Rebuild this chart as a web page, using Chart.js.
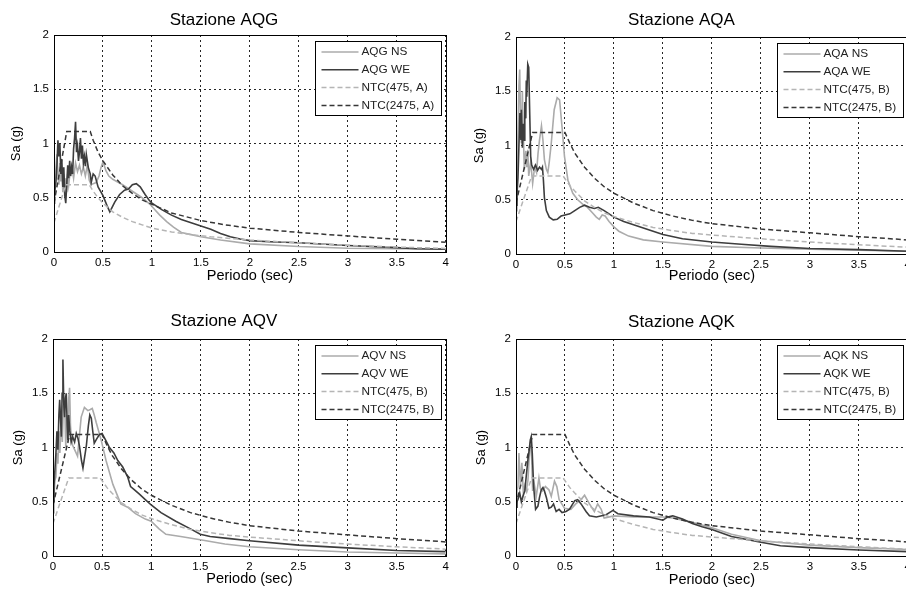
<!DOCTYPE html>
<html>
<head>
<meta charset="utf-8">
<script src="https://cdn.jsdelivr.net/npm/chart.js@4.4.1/dist/chart.umd.min.js"></script>
<style>
  html, body { margin: 0; padding: 0; background: #fff; overflow: hidden; width: 906px; height: 594px; }
  canvas { position: absolute; }
</style>
</head>
<body>
<canvas id="c1" width="453" height="297" style="left:0;top:0"></canvas>
<canvas id="c2" width="462" height="297" style="left:453px;top:0"></canvas>
<canvas id="c3" width="453" height="297" style="left:0;top:297px"></canvas>
<canvas id="c4" width="462" height="297" style="left:453px;top:297px"></canvas>
<script>
// axis ticks
var xTicks = [0, 0.5, 1, 1.5, 2, 2.5, 3, 3.5, 4];
var xTickLabels = ['0', '0.5', '1', '1.5', '2', '2.5', '3', '3.5', '4'];
var yTicks = [0, 0.5, 1, 1.5, 2];
var yTickLabels = ['0', '0.5', '1', '1.5', '2'];

// [period (s), Sa (g)] pairs
var aqgNs = [[0,0.45],[0.01,0.6],[0.02,0.78],[0.03,0.9],[0.04,0.7],[0.05,0.62],[0.06,0.82],[0.07,0.65],[0.08,0.78],[0.09,0.55],[0.1,0.72],[0.11,0.6],[0.12,0.68],[0.13,0.55],[0.14,0.72],[0.15,0.62],[0.16,0.7],[0.18,0.8],[0.2,0.68],[0.22,0.82],[0.24,0.74],[0.26,0.8],[0.28,0.72],[0.3,0.78],[0.32,0.7],[0.34,0.8],[0.36,0.66],[0.38,0.62],[0.4,0.63],[0.43,0.64],[0.46,0.7],[0.48,0.78],[0.5,0.83],[0.53,0.75],[0.56,0.7],[0.6,0.67],[0.7,0.62],[0.8,0.56],[0.9,0.5],[0.98,0.44],[1.03,0.39],[1.08,0.34],[1.15,0.28],[1.22,0.23],[1.3,0.18],[1.4,0.16],[1.5,0.14],[1.7,0.11],[2.0,0.075],[2.5,0.05],[3.0,0.035],[3.5,0.03],[4.0,0.03]];
var aqgWe = [[0,0.5],[0.02,0.65],[0.03,0.8],[0.04,1.03],[0.05,0.88],[0.06,1.0],[0.07,0.72],[0.08,0.85],[0.09,0.6],[0.1,0.78],[0.11,0.52],[0.12,0.45],[0.13,0.62],[0.14,0.8],[0.15,0.68],[0.16,0.84],[0.17,0.7],[0.18,0.78],[0.19,0.72],[0.2,0.95],[0.21,1.05],[0.22,1.2],[0.23,0.92],[0.24,0.98],[0.25,0.84],[0.26,0.92],[0.27,1.05],[0.28,0.86],[0.29,0.98],[0.3,0.82],[0.31,0.88],[0.32,0.79],[0.33,0.9],[0.35,0.78],[0.37,0.72],[0.38,0.64],[0.4,0.72],[0.42,0.7],[0.45,0.6],[0.5,0.52],[0.54,0.43],[0.57,0.37],[0.62,0.46],[0.67,0.53],[0.72,0.57],[0.76,0.58],[0.8,0.62],[0.84,0.63],[0.88,0.6],[0.93,0.53],[0.97,0.48],[1.0,0.45],[1.1,0.39],[1.2,0.34],[1.3,0.3],[1.4,0.27],[1.5,0.24],[1.6,0.21],[1.7,0.17],[1.8,0.14],[1.9,0.12],[2.0,0.105],[2.2,0.095],[2.5,0.085],[3.0,0.06],[3.5,0.04],[3.7,0.03],[4.0,0.025]];
var ntc475A = [[0,0.27],[0.12,0.62],[0.36,0.62],[0.4,0.56],[0.45,0.5],[0.5,0.45],[0.6,0.37],[0.7,0.32],[0.8,0.28],[0.9,0.25],[1.0,0.22],[1.2,0.185],[1.4,0.16],[1.6,0.14],[1.8,0.125],[2.0,0.11],[2.2,0.1],[2.5,0.085],[3.0,0.062],[3.5,0.045],[4.0,0.033]];
var ntc2475A = [[0,0.45],[0.13,1.11],[0.37,1.11],[0.4,1.03],[0.45,0.92],[0.5,0.84],[0.6,0.71],[0.7,0.61],[0.8,0.54],[0.9,0.48],[1.0,0.44],[1.2,0.36],[1.5,0.29],[1.75,0.25],[2.0,0.22],[2.5,0.18],[3.0,0.148],[3.5,0.118],[4.0,0.09]];

var aqaNs = [[0,0.4],[0.01,0.6],[0.02,1.1],[0.03,1.55],[0.038,1.7],[0.045,1.3],[0.055,1.02],[0.065,1.5],[0.075,1.1],[0.085,0.78],[0.1,0.95],[0.11,0.8],[0.12,0.96],[0.13,0.72],[0.15,0.85],[0.17,0.65],[0.19,0.8],[0.21,0.75],[0.225,0.93],[0.24,1.05],[0.26,1.18],[0.275,1.05],[0.29,0.87],[0.31,0.78],[0.325,0.75],[0.34,0.85],[0.36,1.02],[0.39,1.33],[0.42,1.44],[0.445,1.42],[0.47,1.17],[0.495,0.9],[0.53,0.68],[0.58,0.56],[0.63,0.5],[0.68,0.46],[0.73,0.43],[0.78,0.38],[0.82,0.34],[0.85,0.32],[0.88,0.36],[0.91,0.35],[0.95,0.3],[1.0,0.25],[1.05,0.21],[1.15,0.165],[1.3,0.13],[1.5,0.11],[2.0,0.07],[2.5,0.055],[3.0,0.045],[3.5,0.035],[4.0,0.025]];
var aqaWe = [[0,0.45],[0.01,0.55],[0.02,0.7],[0.03,1.0],[0.04,1.3],[0.05,1.05],[0.055,1.33],[0.065,0.98],[0.075,1.2],[0.085,1.05],[0.09,1.4],[0.1,1.25],[0.105,1.6],[0.11,1.45],[0.12,1.75],[0.13,1.72],[0.14,1.3],[0.15,0.9],[0.16,0.82],[0.18,0.78],[0.2,0.82],[0.22,0.77],[0.24,0.8],[0.26,0.78],[0.27,0.8],[0.28,0.68],[0.29,0.52],[0.31,0.4],[0.34,0.34],[0.38,0.315],[0.42,0.32],[0.46,0.35],[0.5,0.36],[0.55,0.37],[0.6,0.4],[0.65,0.43],[0.7,0.45],[0.75,0.43],[0.8,0.42],[0.84,0.43],[0.9,0.4],[0.95,0.37],[1.0,0.34],[1.1,0.3],[1.2,0.27],[1.3,0.24],[1.4,0.21],[1.5,0.18],[1.7,0.14],[2.0,0.11],[2.3,0.09],[2.6,0.07],[3.0,0.05],[3.5,0.04],[4.0,0.025]];
var ntc475B = [[0,0.3],[0.16,0.72],[0.48,0.72],[0.55,0.63],[0.6,0.58],[0.7,0.49],[0.8,0.43],[0.9,0.38],[1.0,0.345],[1.2,0.29],[1.4,0.245],[1.6,0.215],[1.8,0.19],[2.0,0.175],[2.5,0.14],[3.0,0.11],[3.5,0.085],[4.0,0.063]];
var ntc2475B = [[0,0.47],[0.17,1.12],[0.5,1.12],[0.55,1.02],[0.6,0.93],[0.7,0.8],[0.8,0.7],[0.9,0.62],[1.0,0.56],[1.2,0.47],[1.4,0.4],[1.6,0.35],[1.8,0.31],[2.0,0.28],[2.5,0.23],[3.0,0.195],[3.5,0.16],[4.0,0.13]];

var aqvNs = [[0,0.4],[0.01,0.55],[0.02,0.7],[0.03,0.73],[0.04,0.95],[0.05,0.85],[0.06,1.15],[0.07,0.95],[0.085,1.28],[0.095,1.05],[0.105,1.38],[0.118,1.44],[0.13,1.0],[0.14,1.3],[0.152,1.04],[0.16,1.45],[0.169,1.55],[0.178,1.2],[0.186,1.1],[0.2,1.02],[0.22,0.98],[0.25,0.92],[0.27,1.12],[0.287,1.28],[0.32,1.37],[0.355,1.34],[0.38,1.35],[0.4,1.36],[0.42,1.3],[0.44,1.23],[0.49,1.07],[0.54,0.88],[0.61,0.66],[0.69,0.48],[0.76,0.45],[0.84,0.39],[0.94,0.34],[1.0,0.32],[1.08,0.25],[1.15,0.2],[1.3,0.18],[1.5,0.15],[1.75,0.11],[2.0,0.085],[2.5,0.058],[3.0,0.037],[3.5,0.028],[4.0,0.02]];
var aqvWe = [[0,0.5],[0.01,0.65],[0.02,0.8],[0.03,0.95],[0.04,1.15],[0.05,0.98],[0.06,1.3],[0.068,1.44],[0.085,1.1],[0.093,1.5],[0.101,1.81],[0.11,1.4],[0.118,1.28],[0.127,1.45],[0.135,1.5],[0.145,1.2],[0.152,1.07],[0.16,1.3],[0.17,1.16],[0.185,1.05],[0.2,1.1],[0.22,1.05],[0.237,1.13],[0.255,1.08],[0.27,1.01],[0.29,0.88],[0.305,0.81],[0.32,0.9],[0.34,1.02],[0.36,1.2],[0.375,1.3],[0.39,1.27],[0.405,1.15],[0.42,1.04],[0.445,1.08],[0.473,1.12],[0.5,1.13],[0.54,1.06],[0.575,1.0],[0.62,0.95],[0.66,0.88],[0.71,0.82],[0.76,0.73],[0.79,0.64],[0.83,0.61],[0.88,0.57],[0.94,0.52],[1.0,0.47],[1.1,0.4],[1.25,0.32],[1.4,0.25],[1.5,0.2],[1.6,0.18],[1.8,0.16],[2.0,0.14],[2.5,0.1],[3.0,0.075],[3.5,0.05],[4.0,0.04]];

var aqkNs = [[0,0.45],[0.01,0.6],[0.02,0.64],[0.03,0.95],[0.045,0.64],[0.06,0.86],[0.075,0.58],[0.09,0.65],[0.105,0.6],[0.122,0.7],[0.139,0.98],[0.15,1.05],[0.16,0.9],[0.17,0.6],[0.18,0.7],[0.207,0.55],[0.234,0.72],[0.25,0.62],[0.268,0.6],[0.3,0.64],[0.336,0.61],[0.36,0.55],[0.393,0.69],[0.417,0.64],[0.44,0.52],[0.495,0.44],[0.56,0.43],[0.61,0.48],[0.664,0.52],[0.7,0.56],[0.75,0.48],[0.8,0.41],[0.834,0.48],[0.87,0.43],[0.9,0.35],[1.0,0.37],[1.2,0.36],[1.4,0.36],[1.5,0.36],[1.6,0.35],[1.8,0.31],[2.0,0.26],[2.2,0.2],[2.5,0.14],[3.0,0.1],[3.5,0.077],[4.0,0.06]];
var aqkWe = [[0,0.45],[0.01,0.5],[0.02,0.52],[0.038,0.58],[0.055,0.5],[0.071,0.55],[0.09,0.6],[0.105,0.74],[0.122,0.89],[0.135,0.98],[0.146,1.07],[0.156,1.1],[0.166,0.95],[0.18,0.64],[0.2,0.43],[0.224,0.46],[0.24,0.54],[0.258,0.61],[0.275,0.63],[0.29,0.6],[0.31,0.54],[0.336,0.44],[0.36,0.45],[0.383,0.48],[0.41,0.41],[0.44,0.43],[0.47,0.4],[0.51,0.41],[0.545,0.43],[0.6,0.51],[0.63,0.52],[0.664,0.48],[0.715,0.41],[0.75,0.37],[0.82,0.36],[0.92,0.38],[0.99,0.42],[1.04,0.39],[1.2,0.37],[1.36,0.36],[1.5,0.33],[1.55,0.36],[1.6,0.37],[1.7,0.34],[1.8,0.3],[1.9,0.27],[2.0,0.245],[2.2,0.18],[2.5,0.126],[2.7,0.095],[3.0,0.077],[3.5,0.055],[4.0,0.04]];

Chart.defaults.font.family = '"Liberation Sans", Arial, sans-serif';
Chart.defaults.color = '#000';

// matlab-like axes box plus the legend in the top right corner
var boxLegend = {
    id: 'boxLegend',
    afterDatasetsDraw: function(chart) {
        var ctx = chart.ctx;
        var a = chart.chartArea;
        ctx.save();
        ctx.strokeStyle = '#000';
        ctx.lineWidth = 1;
        ctx.strokeRect(Math.round(a.left) + 0.5, Math.round(a.top) + 0.5,
            Math.round(a.right - a.left), Math.round(a.bottom - a.top));

        var w = 126, h = 74;
        var x0 = Math.round(a.right - 5 - w) + 0.5;
        var y0 = Math.round(a.top + 6) + 0.5;
        ctx.fillStyle = '#fff';
        ctx.fillRect(x0, y0, w, h);
        ctx.strokeRect(x0, y0, w, h);
        ctx.font = '11.8px "Liberation Sans", Arial, sans-serif';
        ctx.textBaseline = 'middle';
        chart.data.datasets.forEach(function(ds, i) {
            var y = y0 + 10.5 + i * 17.8;
            ctx.strokeStyle = ds.borderColor;
            ctx.lineWidth = ds.borderWidth;
            ctx.setLineDash(ds.borderDash || []);
            ctx.beginPath();
            ctx.moveTo(x0 + 6, y);
            ctx.lineTo(x0 + 43, y);
            ctx.stroke();
            ctx.setLineDash([]);
            ctx.fillStyle = '#222';
            ctx.fillText(ds.label, x0 + 46, y);
        });
        ctx.restore();
    }
};

function toXY(arr) {
    return arr.map(function(p) { return { x: p[0], y: p[1] }; });
}

function makeChart(p) {
    var ctx = document.getElementById(p.id).getContext('2d');
    return new Chart(ctx, {
        type: 'line',
        data: {
            datasets: [
                { label: p.name + ' NS', data: toXY(p.ns), borderColor: '#ababab', borderWidth: 1.6, order: 4 },
                { label: p.name + ' WE', data: toXY(p.we), borderColor: '#3d3d3d', borderWidth: 1.6, order: 3 },
                { label: 'NTC(475, ' + p.soil + ')', data: toXY(p.n475), borderColor: '#b5b5b5', borderWidth: 1.5, borderDash: [5, 3], order: 2 },
                { label: 'NTC(2475, ' + p.soil + ')', data: toXY(p.n2475), borderColor: '#363636', borderWidth: 1.5, borderDash: [5, 3], order: 1 }
            ]
        },
        options: {
            responsive: false,
            animation: false,
            layout: { padding: { left: 0, right: p.right, top: 0, bottom: 0 } },
            elements: {
                point: { radius: 0 },
                line: { tension: 0, fill: false }
            },
            plugins: {
                legend: { display: false },
                tooltip: { enabled: false },
                title: {
                    display: true,
                    text: 'Stazione ' + p.name,
                    font: { size: 17, weight: 'normal' },
                    color: '#000',
                    padding: p.titlePad
                }
            },
            scales: {
                x: {
                    type: 'linear',
                    min: 0,
                    max: 4,
                    afterBuildTicks: function(s) { s.ticks = xTicks.map(function(v) { return { value: v }; }); },
                    afterFit: function(s) { s.height = p.xh; },
                    ticks: {
                        padding: 4,
                        font: { size: 11.5 },
                        color: '#000',
                        maxRotation: 0,
                        autoSkip: false,
                        callback: function(v, i) { return xTickLabels[i]; }
                    },
                    grid: { color: 'rgba(0,0,0,0.85)', lineWidth: 1, drawTicks: false },
                    border: { display: false, dash: [2, 3] },
                    title: {
                        display: true,
                        text: 'Periodo (sec)',
                        font: { size: 14.5 },
                        color: '#000',
                        padding: { top: 0, bottom: p.xtPad }
                    }
                },
                y: {
                    min: 0,
                    max: 2,
                    afterBuildTicks: function(s) { s.ticks = yTicks.map(function(v) { return { value: v }; }); },
                    afterFit: function(s) { s.width = p.yw; },
                    ticks: {
                        padding: 5,
                        font: { size: 11.5 },
                        color: '#000',
                        callback: function(v, i) { return yTickLabels[i]; }
                    },
                    grid: { color: 'rgba(0,0,0,0.85)', lineWidth: 1, drawTicks: false },
                    border: { display: false, dash: [2, 3] },
                    title: {
                        display: true,
                        text: 'Sa (g)',
                        font: { size: 13 },
                        color: '#000',
                        padding: { top: p.ytPad, bottom: 0 }
                    }
                }
            }
        },
        plugins: [boxLegend]
    });
}

var panels = [
    { id: 'c1', name: 'AQG', soil: 'A', ns: aqgNs, we: aqgWe, n475: ntc475A, n2475: ntc2475A,
      yw: 54, xh: 45, right: 5, titlePad: { top: 10.5, bottom: 4.1 }, xtPad: 12.3, ytPad: 9 },
    { id: 'c2', name: 'AQA', soil: 'B', ns: aqaNs, we: aqaWe, n475: ntc475B, n2475: ntc2475B,
      yw: 63, xh: 43, right: 5, titlePad: { top: 10.6, bottom: 6 }, xtPad: 12.3, ytPad: 19 },
    { id: 'c3', name: 'AQV', soil: 'B', ns: aqvNs, we: aqvWe, n475: ntc475B, n2475: ntc2475B,
      yw: 53, xh: 38, right: 5, titlePad: { top: 14.5, bottom: 7.1 }, xtPad: 6.3, ytPad: 10.5 },
    { id: 'c4', name: 'AQK', soil: 'B', ns: aqkNs, we: aqkWe, n475: ntc475B, n2475: ntc2475B,
      yw: 63, xh: 38, right: 5, titlePad: { top: 15.3, bottom: 6.3 }, xtPad: 5.3, ytPad: 20.5 }
];

panels.forEach(makeChart);
</script>
</body>
</html>
